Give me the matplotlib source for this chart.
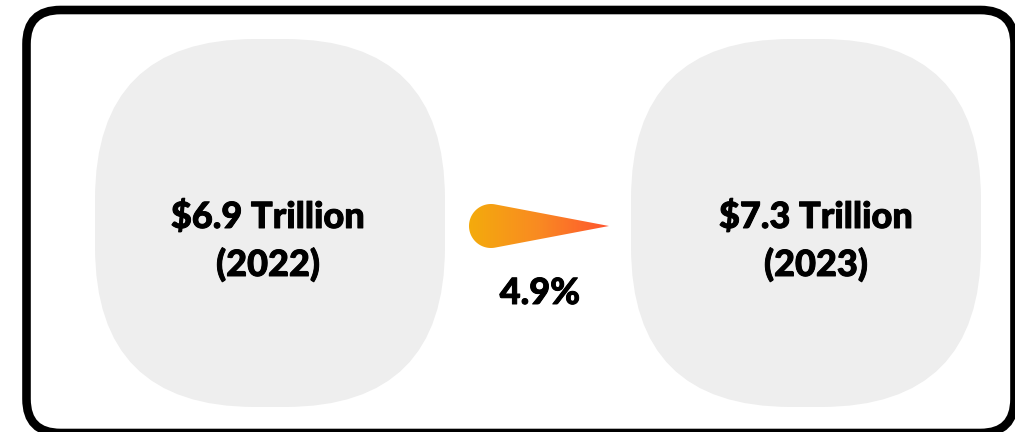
import numpy as np
import matplotlib
matplotlib.use("Agg")
import matplotlib.pyplot as plt
import matplotlib.patheffects as pe
from matplotlib.patches import FancyBboxPatch, PathPatch
from matplotlib.path import Path
from matplotlib.colors import LinearSegmentedColormap

# market size figures
years = [2022, 2023]
values = [6.9, 7.3]          # trillion USD
growth_pct = 4.9

W, H = 1015, 432
fig = plt.figure(figsize=(W / 100, H / 100), dpi=100)
ax = fig.add_axes([0, 0, 1, 1])
ax.set_xlim(0, W)
ax.set_ylim(H, 0)
ax.axis("off")

# bold labels, thickened slightly with a stroke
font = dict(family=["Lato", "DejaVu Sans"], weight="black", color="black",
            path_effects=[pe.withStroke(linewidth=0.7, foreground="black")])

# outer frame (runs off the right and bottom edge)
frame = FancyBboxPatch((26.5, 10), 988, 423,
                       boxstyle="round,pad=0,rounding_size=34",
                       fc="white", ec="black", lw=6.2, zorder=1)
ax.add_patch(frame)

# two rounded blobs with the yearly totals
blob_x = [95, 631]
blob_w, blob_y, blob_h = 350, 39, 368
text_cx = [268, 816]
for i, (yr, v) in enumerate(zip(years, values)):
    blob = FancyBboxPatch((blob_x[i], blob_y), blob_w, blob_h,
                          boxstyle="round,pad=0,rounding_size=160",
                          fc="#eeeeee", ec="none", zorder=2)
    ax.add_patch(blob)
    ax.text(text_cx[i], 228, f"${v} Trillion", ha="center", va="baseline",
            fontsize=26, zorder=4, **font)
    ax.text(text_cx[i], 276, f"({yr})", ha="center", va="baseline",
            fontsize=26, zorder=4, **font)

# teardrop arrow with orange gradient
cx, cy, r = 491, 226, 22
tip = (609, 226)
theta = np.linspace(np.deg2rad(80), np.deg2rad(280), 60)
pts = [(cx + r * np.cos(t), cy - r * np.sin(t)) for t in theta]
pts = [tip] + pts + [tip]
drop = Path(pts, closed=True)
clip = PathPatch(drop, fc="none", ec="none", transform=ax.transData)
ax.add_patch(clip)
grad = np.linspace(0, 1, 256).reshape(1, -1)
cmap = LinearSegmentedColormap.from_list("drop", ["#f4ab0c", "#f98a22", "#ff5530"])
im = ax.imshow(grad, cmap=cmap, extent=[cx - r, tip[0], cy + r, cy - r],
               aspect="auto", zorder=3, interpolation="bilinear")
im.set_clip_path(clip)
ax.set_xlim(0, W)
ax.set_ylim(H, 0)

ax.text(540, 304, f"{growth_pct}%", ha="center", va="baseline",
        fontsize=26, zorder=4, **font)

fig.savefig("out.png", dpi=100, facecolor="white")
